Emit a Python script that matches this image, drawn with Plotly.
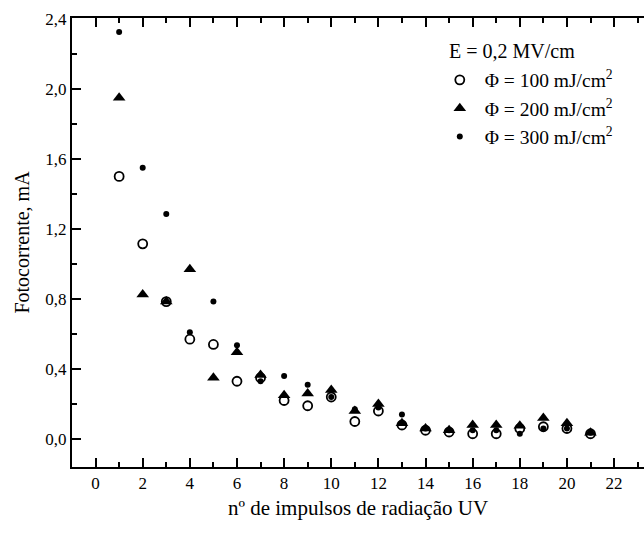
import plotly.graph_objects as go

pulses = list(range(1, 22))
phi100 = [1.50, 1.115, 0.785, 0.57, 0.54, 0.33, 0.35, 0.22, 0.19, 0.24, 0.10,
          0.16, 0.08, 0.05, 0.04, 0.03, 0.03, 0.06, 0.07, 0.06, 0.03]
phi200 = [1.95, 0.825, 0.785, 0.97, 0.35, 0.495, 0.365, 0.25, 0.26, 0.28, 0.16,
          0.20, 0.09, 0.06, 0.05, 0.08, 0.08, 0.075, 0.12, 0.09, 0.035]
phi300 = [2.325, 1.55, 1.285, 0.61, 0.785, 0.535, 0.33, 0.36, 0.31, 0.24, 0.17,
          0.18, 0.14, 0.06, 0.05, 0.05, 0.05, 0.03, 0.06, 0.06, 0.035]

x_ticks = list(range(0, 23, 2))
y_ticks = [0.0, 0.4, 0.8, 1.2, 1.6, 2.0, 2.4]
y_ticktext = ["0,0", "0,4", "0,8", "1,2", "1,6", "2,0", "2,4"]

FONT = "Liberation Serif, Times New Roman, serif"


def label(fluence):
    s = "&nbsp;"
    return f"{s}Φ{s}={s}{fluence}{s}mJ/cm<sup>2</sup>"


fig = go.Figure()
fig.add_trace(go.Scatter(
    x=pulses, y=phi100, mode="markers", name=label(100),
    marker=dict(symbol="circle-open", size=9, color="black", line=dict(width=1.8, color="black")),
))
fig.add_trace(go.Scatter(
    x=pulses, y=phi200, mode="markers", name=label(200),
    marker=dict(symbol="triangle-up", size=11, color="black"),
))
fig.add_trace(go.Scatter(
    x=pulses, y=phi300, mode="markers", name=label(300),
    marker=dict(symbol="circle", size=6, color="black"),
))

axis_common = dict(
    showgrid=False, zeroline=False, showline=True, linecolor="black", linewidth=2,
    ticks="inside", tickcolor="black", tickwidth=1.6, ticklen=9,
    tickfont=dict(family=FONT, size=17, color="black"),
)

fig.update_xaxes(
    **axis_common, range=[-1, 23.27], tickmode="array", tickvals=x_ticks,
    mirror="ticks",
    minor=dict(ticks="inside", ticklen=5, tickwidth=1.6, tickcolor="black", dtick=1, tick0=1),
    title=dict(text="nº de impulsos de radiação UV", font=dict(family=FONT, size=21, color="black"), standoff=8),
)
fig.update_yaxes(
    **axis_common, range=[-0.16, 2.405], tickmode="array", tickvals=y_ticks, ticktext=y_ticktext,
    minor=dict(ticks="inside", ticklen=5, tickwidth=1.6, tickcolor="black", dtick=0.2, tick0=0.2),
    title=dict(text="Fotocorrente, mA", font=dict(family=FONT, size=20, color="black"), standoff=10),
)

fig.add_annotation(
    text="E = 0,2 MV/cm", xref="paper", yref="paper", x=0.656, y=0.926,
    xanchor="left", yanchor="middle", showarrow=False,
    font=dict(family=FONT, size=20, color="black"),
)

fig.update_layout(
    width=644, height=533,
    margin=dict(l=72, r=0, t=18, b=66),
    paper_bgcolor="white", plot_bgcolor="white",
    font=dict(family=FONT, color="black"),
    legend=dict(
        x=0.643, y=0.905, xanchor="left", yanchor="top",
        bgcolor="rgba(0,0,0,0)",
        font=dict(family=FONT, size=19.5, color="black"),
        itemwidth=30, tracegroupgap=0,
    ),
)

fig.write_html("out.html")
